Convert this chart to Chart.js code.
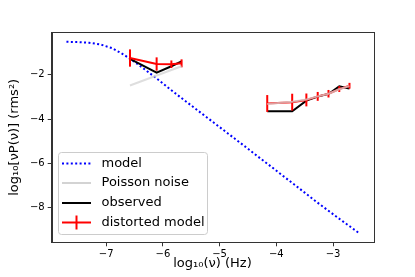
<!DOCTYPE html>
<html>
<head>
<meta charset="utf-8">
<script src="https://cdn.jsdelivr.net/npm/chart.js@4.4.1/dist/chart.umd.min.js"></script>
<style>
  html, body { margin: 0; padding: 0; background: #fff; }
  #wrap { width: 415px; height: 277px; position: relative; }
</style>
</head>
<body>
<div id="wrap"><canvas id="c" width="415" height="277"></canvas></div>
<script>
// ---- data ----
const modelX = [-7.7,-7.5,-7.3,-7.1,-6.9,-6.7,-6.5,-6.3,-6.1,-5.9,-5.7,-5.5,-5.3,-5.1,-4.9,-4.7,-4.5,-4.3,-4.1,-3.9,-3.7,-3.5,-3.3,-3.1,-2.9,-2.7,-2.55];
const modelY = [-0.52,-0.53,-0.56,-0.64,-0.80,-1.08,-1.42,-1.80,-2.19,-2.60,-3.00,-3.39,-3.78,-4.17,-4.56,-4.95,-5.34,-5.74,-6.13,-6.53,-6.92,-7.32,-7.72,-8.10,-8.48,-8.85,-9.13];

const seg1X = [-6.58, -6.11, -5.85, -5.67];
const seg1Distorted = [-1.25, -1.52, -1.53, -1.49];
const seg1Err = [0.39, 0.30, 0.17, 0.18];
const seg1Observed = [-1.29, -1.91, -1.62, -1.40];
const seg1Poisson = [-2.49, -2.04, -1.79, -1.62];

const seg2X = [-4.16, -3.72, -3.47, -3.27, -3.08, -2.89, -2.71];
const seg2Distorted = [-3.30, -3.24, -3.14, -2.98, -2.86, -2.65, -2.50];
const seg2Err = [0.38, 0.38, 0.29, 0.20, 0.17, 0.13, 0.13];
const seg2Observed = [-3.65, -3.65, -3.17, -2.99, -2.87, -2.53, -2.62];
const seg2Poisson = [-3.32, -3.22, -3.12, -2.98, -2.86, -2.66, -2.51];

const xTicks = [-7, -6, -5, -4, -3];
const xTickLabels = ['\u22127', '\u22126', '\u22125', '\u22124', '\u22123'];
const yTicks = [-8, -6, -4, -2];
const yTickLabels = ['\u22128', '\u22126', '\u22124', '\u22122'];

const legendLabels = ['model', 'Poisson noise', 'observed', 'distorted model'];
const xTitle = 'log\u2081\u2080(\u03bd) (Hz)';
const yTitle = 'log\u2081\u2080[\u03bdP(\u03bd)] (rms\u00b2)';

// ---- helpers ----
const pts = (xs, ys) => xs.map((x, i) => ({ x: x, y: ys[i] }));
const FONT = '"DejaVu Sans", sans-serif';

const RED = '#ff0000';
const GRAY = 'rgba(211,211,211,0.75)';

// datasets: first drawn on top in Chart.js
const datasets = [
  { label: 'poisson1', data: pts(seg1X, seg1Poisson), borderColor: GRAY, borderWidth: 2, order: 0 },
  { label: 'poisson2', data: pts(seg2X, seg2Poisson), borderColor: GRAY, borderWidth: 2, order: 0 },
  { label: 'dist1', data: pts(seg1X, seg1Distorted), borderColor: RED, borderWidth: 2, order: 1, errs: seg1Err },
  { label: 'dist2', data: pts(seg2X, seg2Distorted), borderColor: RED, borderWidth: 2, order: 1, errs: seg2Err },
  { label: 'obs1', data: pts(seg1X, seg1Observed), borderColor: '#000', borderWidth: 2, order: 2 },
  { label: 'obs2', data: pts(seg2X, seg2Observed), borderColor: '#000', borderWidth: 2, order: 2 },
  { label: 'model', data: pts(modelX, modelY), borderColor: '#0000ff', borderWidth: 2, borderDash: [2, 2.4], order: 3 }
].map(d => Object.assign({ showLine: true, pointRadius: 0, fill: false, tension: 0 }, d));

const errorBarPlugin = {
  id: 'errbars',
  afterDatasetDraw(chart, args) {
    const ds = chart.data.datasets[args.index];
    if (!ds.errs) return;
    const xs = chart.scales.x, ys = chart.scales.y, ctx = chart.ctx;
    ctx.save();
    ctx.strokeStyle = RED;
    ctx.lineWidth = 2;
    ds.data.forEach((p, i) => {
      const px = xs.getPixelForValue(p.x);
      ctx.beginPath();
      ctx.moveTo(px, ys.getPixelForValue(p.y - ds.errs[i]));
      ctx.lineTo(px, ys.getPixelForValue(p.y + ds.errs[i]));
      ctx.stroke();
    });
    ctx.restore();
  }
};

const framePlugin = {
  id: 'frame',
  afterDatasetsDraw(chart) {
    const a = chart.chartArea, ctx = chart.ctx;
    ctx.save();
    ctx.strokeStyle = '#333';
    ctx.lineWidth = 1;
    ctx.strokeRect(Math.round(a.left) + 0.5, Math.round(a.top) + 0.5, Math.round(a.right - a.left), Math.round(a.bottom - a.top));
    ctx.restore();
  }
};

const legendPlugin = {
  id: 'customLegend',
  afterDraw(chart) {
    const ctx = chart.ctx;
    const bx = 58.5, by = 152.5, bw = 149, bh = 82;
    ctx.save();
    ctx.fillStyle = 'rgba(255,255,255,0.8)';
    ctx.strokeStyle = '#cccccc';
    ctx.lineWidth = 1;
    ctx.beginPath();
    ctx.roundRect(bx, by, bw, bh, 3);
    ctx.fill();
    ctx.stroke();
    const rows = [163.5, 183, 203, 222.5];
    const x0 = 62, x1 = 91;
    // model
    ctx.setLineDash([2, 2.4]);
    ctx.strokeStyle = '#0000ff'; ctx.lineWidth = 2;
    ctx.beginPath(); ctx.moveTo(x0, rows[0]); ctx.lineTo(x1, rows[0]); ctx.stroke();
    ctx.setLineDash([]);
    ctx.strokeStyle = 'rgba(211,211,211,1)';
    ctx.beginPath(); ctx.moveTo(x0, rows[1]); ctx.lineTo(x1, rows[1]); ctx.stroke();
    ctx.strokeStyle = '#000';
    ctx.beginPath(); ctx.moveTo(x0, rows[2]); ctx.lineTo(x1, rows[2]); ctx.stroke();
    ctx.strokeStyle = RED;
    ctx.beginPath(); ctx.moveTo(x0, rows[3]); ctx.lineTo(x1, rows[3]); ctx.stroke();
    ctx.beginPath(); ctx.moveTo((x0 + x1) / 2, rows[3] - 7); ctx.lineTo((x0 + x1) / 2, rows[3] + 7); ctx.stroke();
    ctx.fillStyle = '#000';
    ctx.font = '13px ' + FONT;
    ctx.textBaseline = 'middle';
    legendLabels.forEach((t, i) => ctx.fillText(t, 101.5, rows[i]));
    ctx.restore();
  }
};

new Chart(document.getElementById('c'), {
  type: 'scatter',
  data: { datasets: datasets },
  options: {
    responsive: false,
    animation: false,
    devicePixelRatio: 1,
    layout: { padding: { left: 0, right: 41.7, top: 32.3, bottom: 0 } },
    plugins: { legend: { display: false }, tooltip: { enabled: false } },
    scales: {
      x: {
        type: 'linear', min: -7.96, max: -2.29,
        afterBuildTicks: s => { s.ticks = xTicks.map(v => ({ value: v })); },
        afterFit: s => { s.height = 34.7; },
        ticks: {
          color: '#000', font: { family: FONT, size: 10 }, padding: 2,
          callback: v => { const i = xTicks.indexOf(v); return i >= 0 ? xTickLabels[i] : ''; }
        },
        grid: { drawOnChartArea: false, drawTicks: true, tickLength: 4, color: '#333' },
        border: { display: true, color: '#333' },
        title: { display: true, text: xTitle, color: '#000', font: { family: FONT, size: 13 }, padding: { top: 0, bottom: 6 } }
      },
      y: {
        type: 'linear', min: -9.56, max: -0.09,
        afterBuildTicks: s => { s.ticks = yTicks.map(v => ({ value: v })); },
        afterFit: s => { s.width = 51.7; },
        ticks: {
          color: '#000', font: { family: FONT, size: 10 }, padding: 3,
          callback: v => { const i = yTicks.indexOf(v); return i >= 0 ? yTickLabels[i] : ''; }
        },
        grid: { drawOnChartArea: false, drawTicks: true, tickLength: 4, color: '#333' },
        border: { display: true, color: '#333' },
        title: { display: true, text: yTitle, color: '#000', font: { family: FONT, size: 13 }, padding: { top: 7, bottom: 0 } }
      }
    }
  },
  plugins: [errorBarPlugin, framePlugin, legendPlugin]
});
</script>
</body>
</html>
